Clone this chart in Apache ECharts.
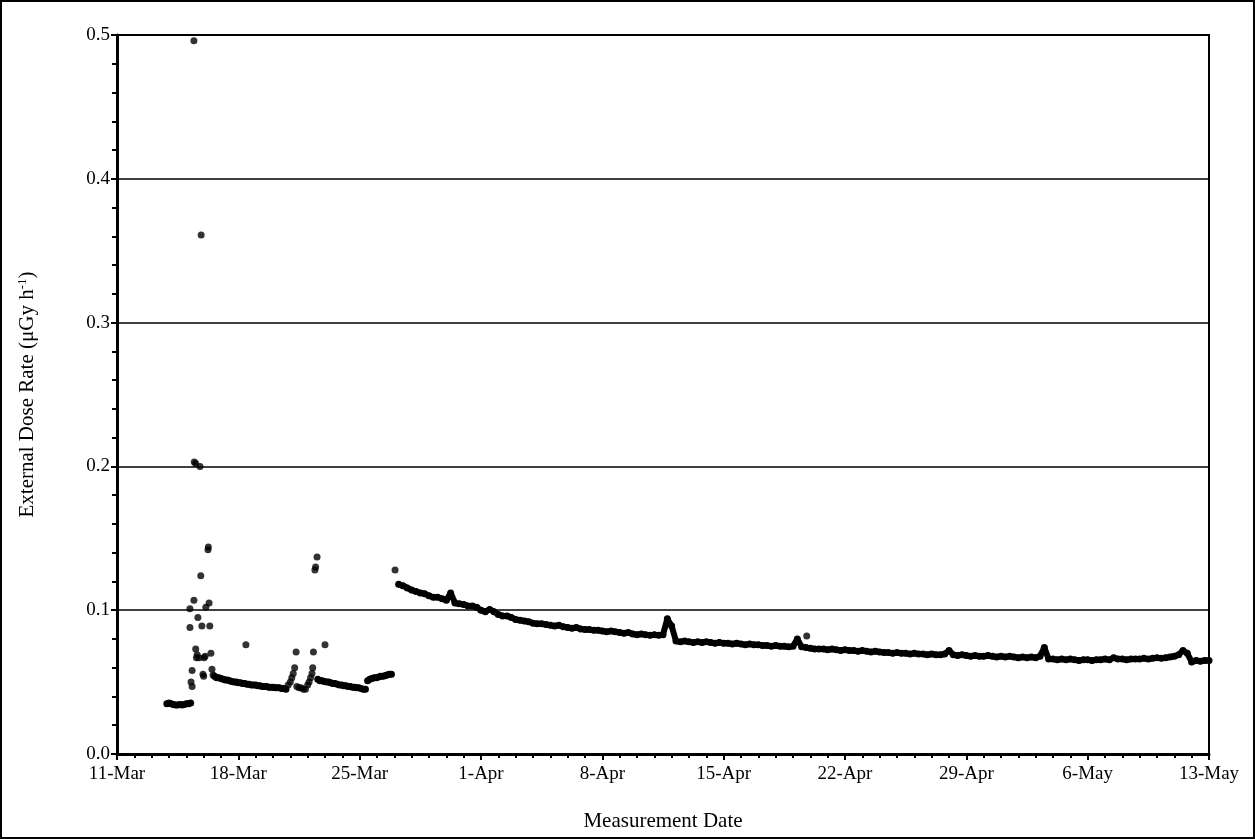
<!DOCTYPE html>
<html>
<head>
<meta charset="utf-8">
<script src="https://cdn.jsdelivr.net/npm/echarts@6/dist/echarts.min.js"></script>
<style>
  html, body { margin: 0; padding: 0; background: #fff; }
  #chart { width: 1255px; height: 839px; box-sizing: border-box; border: 2px solid #000; }
</style>
</head>
<body>
<div id="chart"></div>
<script>
// x = hours since 11-Mar 00:00 (2011); axis is drawn in days
const xTickLabels = ['11-Mar', '18-Mar', '25-Mar', '1-Apr', '8-Apr', '15-Apr', '22-Apr', '29-Apr', '6-May', '13-May'];

// Pre-event background (sampled every 3 h from hour 69)
const segAStartHour = 69, segAStepHours = 3;
const segAValues = [0.035, 0.0355, 0.035, 0.0345, 0.034, 0.034, 0.0345, 0.034, 0.0345, 0.035, 0.035, 0.0355];

// Isolated spike readings, 15-18 Mar
const spikeHours = [101, 101, 102.5, 104, 104, 106.5, 106.5, 107, 109, 109, 110, 111, 112, 113.5, 115, 116, 116.5, 117.5, 119, 120, 120.5, 122, 123, 126, 126.5, 127.5, 128.5, 130, 131.5, 133, 178.5];
const spikeValues = [0.101, 0.088, 0.050, 0.047, 0.058, 0.107, 0.496, 0.203, 0.202, 0.073, 0.067, 0.069, 0.095, 0.067, 0.200, 0.124, 0.361, 0.089, 0.0555, 0.054, 0.067, 0.068, 0.102, 0.142, 0.144, 0.105, 0.089, 0.070, 0.059, 0.055, 0.076];

// 17-21 Mar decay (every 3 h from hour 135)
const segBStartHour = 135, segBStepHours = 3;
const segBValues = [0.054, 0.053, 0.053, 0.0525, 0.052, 0.0515, 0.0515, 0.051, 0.0505, 0.050, 0.050, 0.0495, 0.0495, 0.049, 0.049, 0.0485, 0.0485, 0.048, 0.048, 0.048, 0.0475, 0.0475, 0.047, 0.047, 0.047, 0.0465, 0.0465, 0.0465, 0.046, 0.046, 0.046, 0.0455, 0.0455, 0.045];

// 21-23 Mar rain events
const bumpHours = [237, 240, 242, 244, 246, 248, 249, 252, 255, 258, 261, 264, 266, 268, 270, 271, 272, 274, 275, 277, 288];
const bumpValues = [0.048, 0.050, 0.053, 0.056, 0.060, 0.071, 0.047, 0.046, 0.046, 0.045, 0.045, 0.048, 0.050, 0.053, 0.056, 0.060, 0.071, 0.128, 0.130, 0.137, 0.076];

// 23-25 Mar (every 3 h from hour 278)
const segCStartHour = 278, segCStepHours = 3;
const segCValues = [0.052, 0.051, 0.051, 0.0505, 0.050, 0.050, 0.0495, 0.049, 0.049, 0.0485, 0.048, 0.048, 0.0475, 0.0475, 0.047, 0.047, 0.0465, 0.0465, 0.046, 0.046, 0.0455, 0.045, 0.045];

// 25-27 Mar (every 3 h from hour 347)
const segDStartHour = 347, segDStepHours = 3;
const segDValues = [0.051, 0.052, 0.0525, 0.053, 0.053, 0.0535, 0.054, 0.054, 0.0545, 0.055, 0.0555, 0.0555];

// Single stray readings
const loneHours = [385, 955];
const loneValues = [0.128, 0.082];

// New site, 27-Mar 06:00 to 13-May 00:00, every 6 h
const tailStartHour = 390, tailStepHours = 6;
const tailValues = [
  0.118, 0.117, 0.1155,
  0.114, 0.113, 0.112, 0.1115,
  0.110, 0.109, 0.109, 0.108,
  0.107, 0.112, 0.105, 0.1045,
  0.104, 0.103, 0.103, 0.102,
  0.100, 0.099, 0.1005, 0.099,
  0.097, 0.096, 0.096, 0.095,
  0.0935, 0.093, 0.0925, 0.092,
  0.091, 0.0905, 0.0905, 0.090,
  0.0895, 0.089, 0.0895, 0.0885,
  0.088, 0.0875, 0.088, 0.087,
  0.0865, 0.0865, 0.086, 0.086,
  0.0855, 0.085, 0.0855, 0.085,
  0.0845, 0.084, 0.0845, 0.0835,
  0.083, 0.0835, 0.083, 0.0825,
  0.083, 0.0825, 0.083, 0.094,
  0.089, 0.0785, 0.078, 0.0785,
  0.078, 0.0775, 0.078, 0.0775,
  0.078, 0.0775, 0.077, 0.0775,
  0.077, 0.077, 0.0765, 0.077,
  0.0765, 0.076, 0.0765, 0.076,
  0.076, 0.0755, 0.0755, 0.075,
  0.0755, 0.075, 0.075, 0.0745,
  0.075, 0.080, 0.0745, 0.074,
  0.0735, 0.073, 0.073, 0.073,
  0.0725, 0.073, 0.0725, 0.072,
  0.0725, 0.072, 0.072, 0.0715,
  0.072, 0.0715, 0.071, 0.0715,
  0.071, 0.0705, 0.0705, 0.070,
  0.0705, 0.070, 0.070, 0.0695,
  0.070, 0.0695, 0.0695, 0.069,
  0.0695, 0.069, 0.069, 0.0695,
  0.072, 0.069, 0.0685, 0.069,
  0.0685, 0.068, 0.0685, 0.068,
  0.068, 0.0685, 0.068, 0.0675,
  0.068, 0.0675, 0.068, 0.0675,
  0.067, 0.0675, 0.067, 0.0675,
  0.067, 0.068, 0.074, 0.066,
  0.066, 0.0655, 0.066, 0.0655,
  0.066, 0.0655, 0.065, 0.0655,
  0.0655, 0.065, 0.0655, 0.0655,
  0.066, 0.0655, 0.067, 0.066,
  0.066, 0.0655, 0.066, 0.066,
  0.066, 0.0665, 0.066, 0.0665,
  0.067, 0.0665, 0.067, 0.0675,
  0.068, 0.069, 0.072, 0.070,
  0.064, 0.065, 0.0645, 0.065,
  0.065
];

function regular(startHour, stepHours, vals) {
  return vals.map((v, i) => [(startHour + i * stepHours) / 24, v]);
}
function paired(hours, vals) {
  return hours.map((h, i) => [h / 24, vals[i]]);
}

const FONT = '"Liberation Serif", "Times New Roman", serif';
const DOT = 7;

function runSeries(data) {
  return {
    type: 'line', data: data, symbol: 'circle', symbolSize: DOT, showSymbol: true,
    itemStyle: { color: '#000', borderWidth: 0 },
    lineStyle: { color: '#000', width: 6 },
    clip: true, silent: true
  };
}
function dotSeries(data) {
  return {
    type: 'scatter', data: data, symbol: 'circle', symbolSize: DOT,
    itemStyle: { color: '#000' }, clip: true, silent: true
  };
}

const chart = echarts.init(document.getElementById('chart'), null, { renderer: 'canvas' });
chart.setOption({
  animation: false,
  backgroundColor: '#fff',
  grid: { left: 115, right: 44, top: 33, bottom: 82, show: true, borderColor: '#000', borderWidth: 2, containLabel: false },
  xAxis: {
    type: 'value', min: 0, max: 63, interval: 7,
    name: 'Measurement Date', nameLocation: 'middle', nameGap: 57,
    nameTextStyle: { fontFamily: FONT, fontSize: 21, color: '#000' },
    axisLine: { show: true, lineStyle: { color: '#000', width: 3 } },
    axisTick: { show: true, inside: false, length: 6, lineStyle: { color: '#000', width: 2 } },
    minorTick: { show: true, splitNumber: 7, length: 4, lineStyle: { color: '#000', width: 2 } },
    splitLine: { show: false },
    axisLabel: {
      fontFamily: FONT, fontSize: 19, color: '#000', margin: 11,
      formatter: v => xTickLabels[Math.round(v / 7)] || ''
    }
  },
  yAxis: {
    type: 'value', min: 0, max: 0.5, interval: 0.1,
    name: '{a|External Dose Rate (μGy h}{s|-1}{a|)}', nameLocation: 'middle', nameGap: 78,
    nameTextStyle: {
      rich: {
        a: { fontFamily: FONT, fontSize: 21, color: '#000' },
        s: { fontFamily: FONT, fontSize: 13, color: '#000', verticalAlign: 'top', padding: [0, 0, 10, 0] }
      }
    },
    axisLine: { show: true, lineStyle: { color: '#000', width: 3 } },
    axisTick: { show: true, inside: false, length: 6, lineStyle: { color: '#000', width: 2 } },
    minorTick: { show: true, splitNumber: 5, length: 5, lineStyle: { color: '#000', width: 2 } },
    splitLine: { show: true, lineStyle: { color: '#000', width: 1.5 } },
    axisLabel: {
      fontFamily: FONT, fontSize: 19, color: '#000', margin: 7,
      formatter: v => v.toFixed(1)
    }
  },
  series: [
    runSeries(regular(segAStartHour, segAStepHours, segAValues)),
    dotSeries(paired(spikeHours, spikeValues)),
    runSeries(regular(segBStartHour, segBStepHours, segBValues)),
    dotSeries(paired(bumpHours, bumpValues)),
    runSeries(regular(segCStartHour, segCStepHours, segCValues)),
    runSeries(regular(segDStartHour, segDStepHours, segDValues)),
    dotSeries(paired(loneHours, loneValues)),
    runSeries(regular(tailStartHour, tailStepHours, tailValues))
  ]
});
</script>
</body>
</html>
